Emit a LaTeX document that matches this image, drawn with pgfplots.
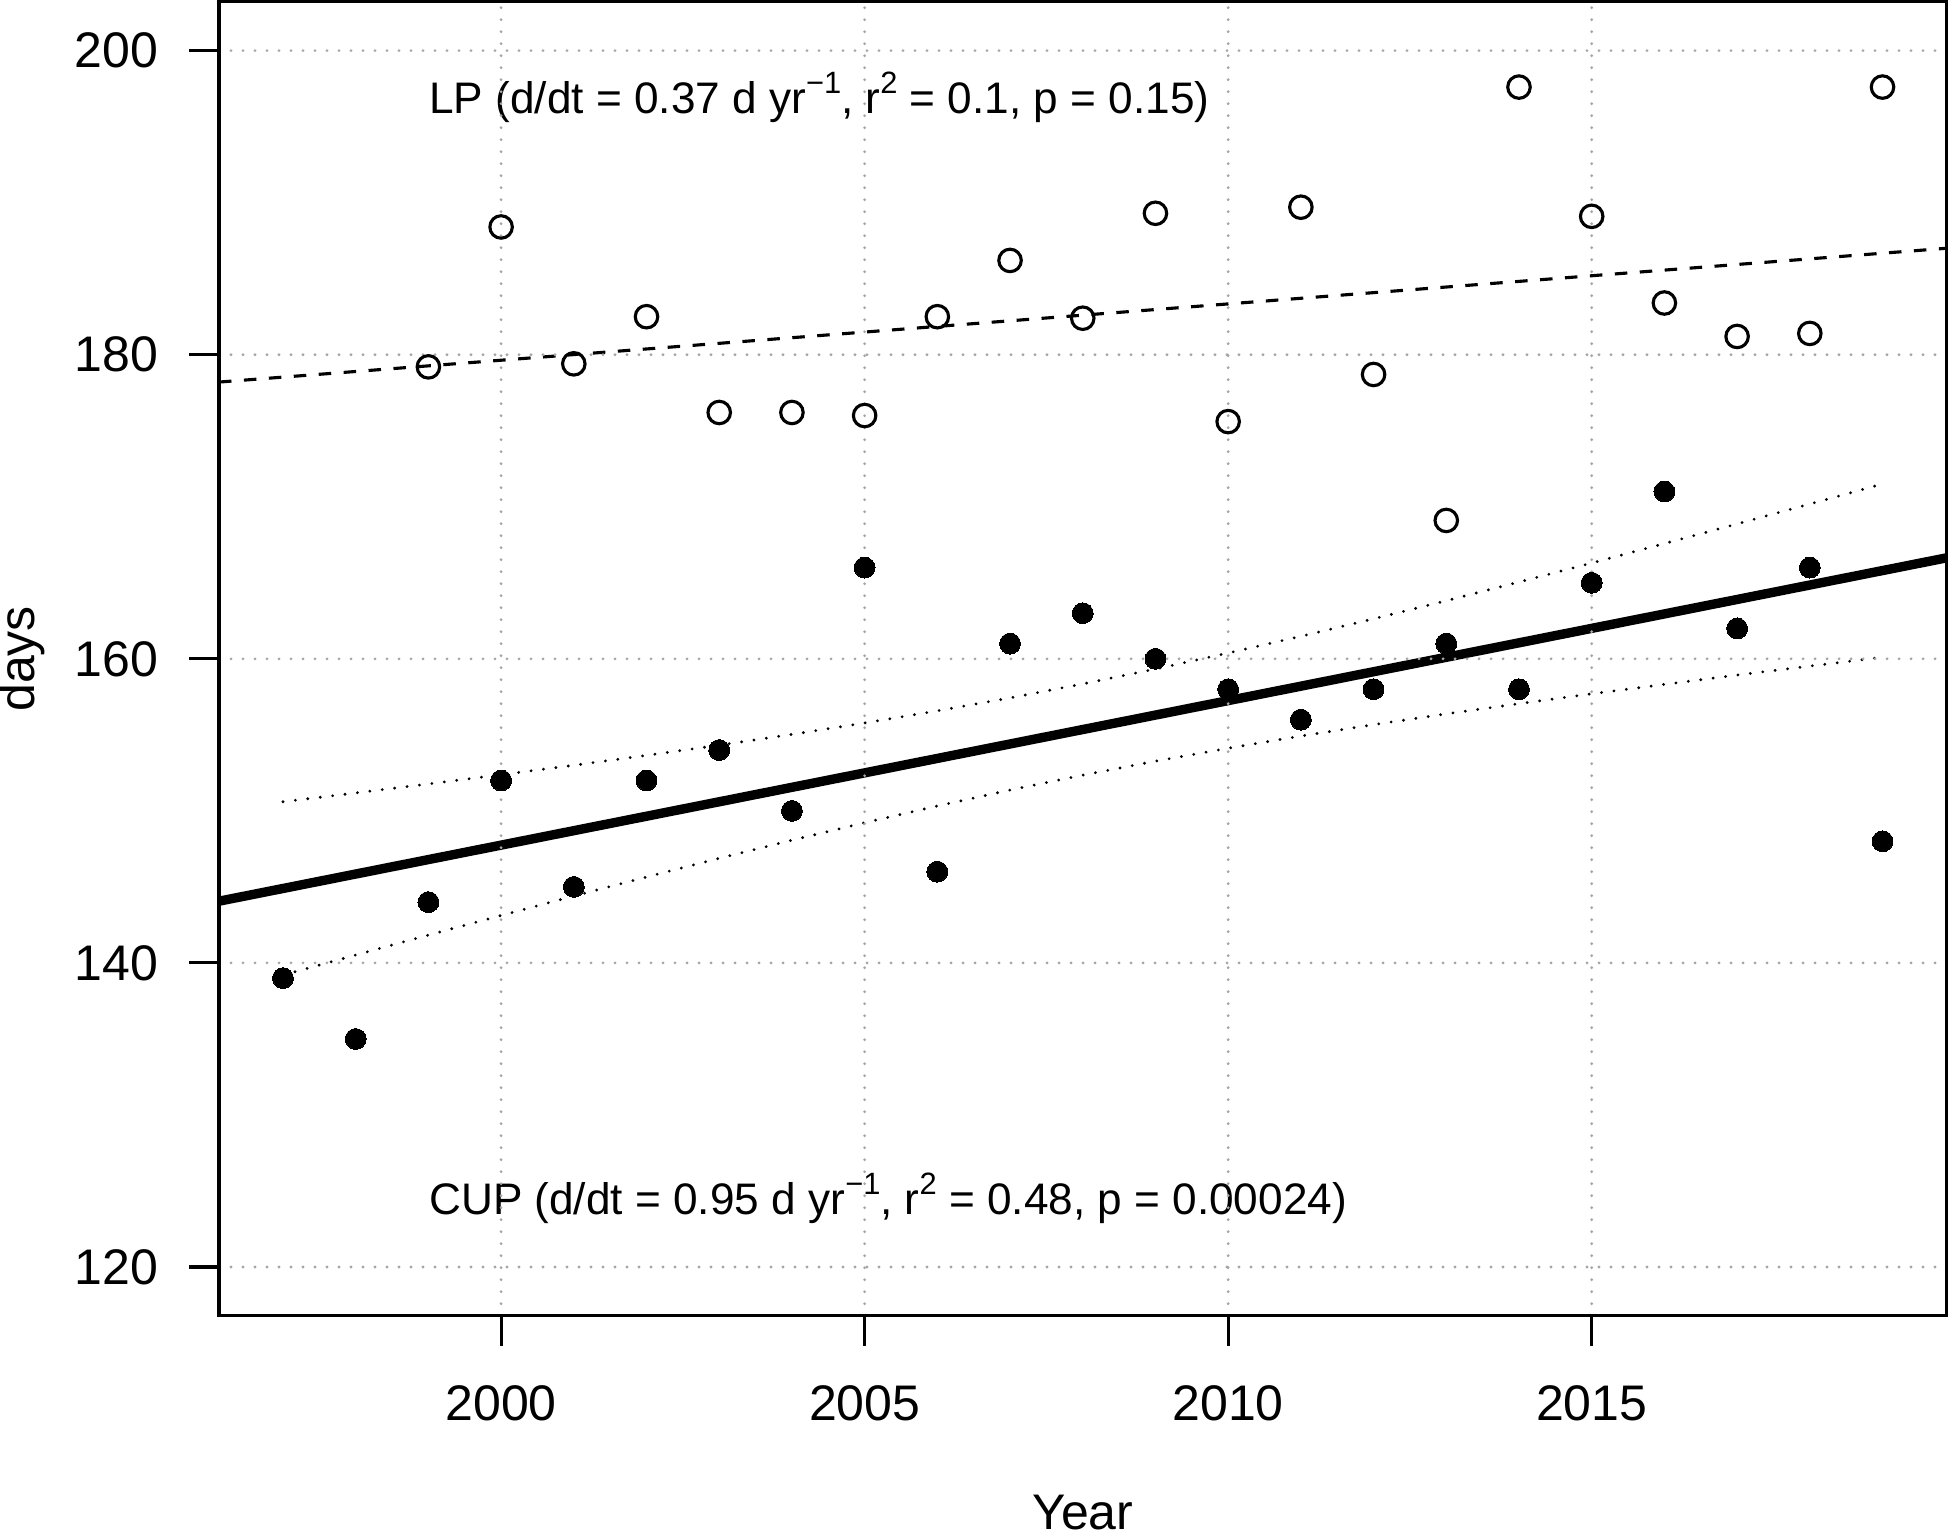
\documentclass[border=0pt]{standalone}
\usepackage{fontspec}
\setmainfont{Liberation Sans}
\usepackage{pgfplots}
\pgfplotsset{compat=1.18}
\newcommand\sups[1]{\raisebox{0.45em}{\fontsize{7.4bp}{8bp}\selectfont #1}}
\begin{document}
\begin{tikzpicture}
\useasboundingbox (0,0) rectangle (468bp,368.4bp);
\begin{axis}[
  at={(52.56bp,52.63bp)}, anchor=south west,
  scale only axis, width=414.6bp, height=315.3bp,
  xmin=1996.12, xmax=2019.88, ymin=116.8, ymax=203.2,
  xtick={2000,2005,2010,2015}, ytick={120,140,160,180,200},
  xtick pos=left, ytick pos=left, tick align=outside,
  major tick length=7.2bp,
  tick style={black, line width=0.75bp},
  axis line style={line width=0.75bp},
  grid=major,
  grid style={color=gray!70, line width=0.75bp, line cap=round, dash pattern=on 0bp off 2.88bp},
  axis on top,
  clip=false,
  /pgf/number format/assume math mode=true,
  /pgf/number format/1000 sep={},
  ticklabel style={font=\fontsize{12bp}{14bp}\selectfont},
  yticklabel style={anchor=east, inner sep=0pt, xshift=-7.2bp},
  xticklabel style={anchor=north, inner sep=0pt, yshift=-9.4bp},
  xlabel={Year}, ylabel={days},
  xlabel style={at={(axis description cs:0.5,-0.1625)}, anchor=base, inner sep=0pt, font=\fontsize{12bp}{14bp}\selectfont},
  ylabel style={at={(axis description cs:-0.1141,0.5)}, anchor=center, inner sep=0pt, font=\fontsize{12bp}{14bp}\selectfont},
]
% LP (open circles)
\addplot[only marks, mark=o, mark size=2.7bp, mark options={line width=0.75bp, black}] coordinates {
(1999,179.2) (2000,188.4) (2001,179.4) (2002,182.5) (2003,176.2) (2004,176.2)
(2005,176.0) (2006,182.5) (2007,186.2) (2008,182.4) (2009,189.3) (2010,175.6)
(2011,189.7) (2012,178.7) (2013,169.1) (2014,197.6) (2015,189.1) (2016,183.4)
(2017,181.2) (2018,181.4) (2019,197.6)
};
% CUP (filled circles)
\addplot[only marks, mark=*, mark size=2.5bp, mark options={black, fill=black, line width=0pt}] coordinates {
(1997,139) (1998,135) (1999,144) (2000,152) (2001,145) (2002,152) (2003,154)
(2004,150) (2005,166) (2006,146) (2007,161) (2008,163) (2009,160) (2010,158)
(2011,156) (2012,158) (2013,161) (2014,158) (2015,165) (2016,171) (2017,162)
(2018,166) (2019,148)
};
% LP trend (dashed)
\addplot[black, line width=0.75bp, dash pattern=on 3bp off 3bp] coordinates {(1996.12,178.2) (2019.88,187.0)};
% CUP trend (thick)
\addplot[black, line width=2.25bp] coordinates {(1996.12,144.06) (2019.88,166.64)};
% CUP confidence band (dotted)
\addplot[black, line width=0.75bp, line cap=round, dash pattern=on 0bp off 3bp] coordinates {
(1997,150.60) (1998,151.18) (1999,151.77) (2000,152.38) (2001,153.00) (2002,153.65)
(2003,154.32) (2004,155.03) (2005,155.78) (2006,156.58) (2007,157.43) (2008,158.35)
(2009,159.33) (2010,160.38) (2011,161.48) (2012,162.63) (2013,163.82) (2014,165.05)
(2015,166.30) (2016,167.58) (2017,168.87) (2018,170.18) (2019,171.50)
};
\addplot[black, line width=0.75bp, line cap=round, dash pattern=on 0bp off 3bp] coordinates {
(1997,139.20) (1998,140.52) (1999,141.83) (2000,143.12) (2001,144.40) (2002,145.65)
(2003,146.88) (2004,148.07) (2005,149.22) (2006,150.32) (2007,151.37) (2008,152.35)
(2009,153.27) (2010,154.12) (2011,154.92) (2012,155.67) (2013,156.38) (2014,157.05)
(2015,157.70) (2016,158.32) (2017,158.93) (2018,159.52) (2019,160.10)
};
\node[anchor=base west, inner sep=0pt, font=\fontsize{10.6bp}{13bp}\selectfont] at (axis cs:1999,195.84)
  {LP (d/dt = 0.37 d yr\sups{−1}, r\sups{2} = 0.1, p = 0.15)};
\node[anchor=base west, inner sep=0pt, font=\fontsize{10.6bp}{13bp}\selectfont] at (axis cs:1999,123.45)
  {CUP (d/dt = 0.95 d yr\sups{−1}, r\sups{2} = 0.48, p = 0.00024)};
\end{axis}
\end{tikzpicture}
\end{document}
